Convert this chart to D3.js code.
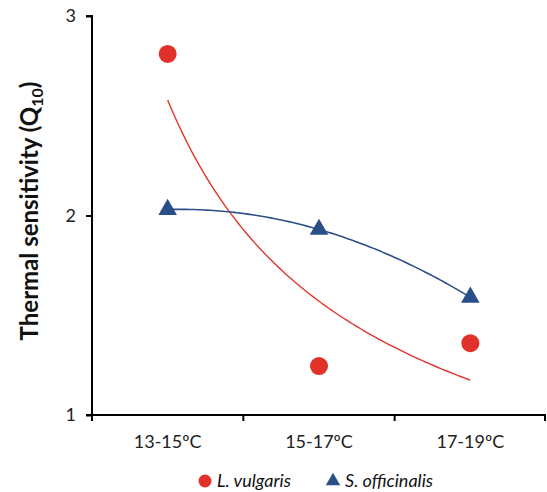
<!DOCTYPE html>
<html>
<head>
<meta charset="utf-8">
<script src="https://cdn.jsdelivr.net/npm/d3@7"></script>
<style>
  body { margin: 0; background: #fff; }
  text { font-family: Lato, "Open Sans", sans-serif; }
</style>
</head>
<body>
<svg width="547" height="492"></svg>
<script>
// values
var categories = ["13-15ºC", "15-17ºC", "17-19ºC"];
var vulgaris = [2.81, 1.245, 1.36];
var officinalis = [2.03, 1.93, 1.59];
var yTicks = [1, 2, 3];

var svg = d3.select("svg");
var mLeft = 92, mRight = 546, mTop = 16, mBottom = 415;

var x = d3.scaleBand().domain(categories).range([mLeft, mRight]);
var y = d3.scaleLinear().domain([1, 3]).range([mBottom, mTop]);
// trendline x (1..3) onto band centres
var xt = d3.scaleLinear().domain([1, 3])
  .range([x(categories[0]) + x.bandwidth() / 2, x(categories[2]) + x.bandwidth() / 2]);

// power trendline (like Excel) for L. vulgaris
function powerFit(ys) {
  var lx = ys.map(function(d, i) { return Math.log(i + 1); });
  var ly = ys.map(function(d) { return Math.log(d); });
  var mx = d3.mean(lx), my = d3.mean(ly);
  var sxy = d3.sum(lx, function(d, i) { return (d - mx) * (ly[i] - my); });
  var sxx = d3.sum(lx, function(d) { return (d - mx) * (d - mx); });
  var b = sxy / sxx, a = Math.exp(my - b * mx);
  return function(t) { return a * Math.pow(t, b); };
}
// 2nd order polynomial through the three S. officinalis points
function polyFit(ys) {
  var a = (ys[2] - 2 * ys[1] + ys[0]) / 2;
  var b = (ys[1] - ys[0]) - 3 * a;
  var c = ys[0] - a - b;
  return function(t) { return a * t * t + b * t + c; };
}

var steps = d3.range(1, 3.0001, 0.02);
var line = d3.line()
  .x(function(d) { return xt(d[0]); })
  .y(function(d) { return y(d[1]); });

var fv = powerFit(vulgaris), fo = polyFit(officinalis);

svg.append("path")
  .datum(steps.map(function(t) { return [t, fv(t)]; }))
  .attr("d", line).attr("fill", "none")
  .attr("stroke", "#e3342b").attr("stroke-width", 1.4);

svg.append("path")
  .datum(steps.map(function(t) { return [t, fo(t)]; }))
  .attr("d", line).attr("fill", "none")
  .attr("stroke", "#2b4f88").attr("stroke-width", 1.6);

// axes
var yAxis = d3.axisLeft(y).tickValues(yTicks).tickSize(6).tickPadding(10).tickFormat(d3.format("d"));
var gy = svg.append("g").attr("transform", "translate(" + mLeft + ",0)").call(yAxis);
gy.select(".domain").attr("stroke", "#000").attr("stroke-width", 2).attr("d", "M-6," + mTop + "H0V" + mBottom + "H-6");
gy.selectAll(".tick line").attr("stroke-width", 2);
gy.selectAll(".tick text").attr("font-size", 18).attr("fill", "#222")
  .style("font-family", "Lato, 'Open Sans', sans-serif");

var gx = svg.append("g").attr("transform", "translate(0," + mBottom + ")");
gx.append("line").attr("x1", mLeft).attr("x2", mRight).attr("stroke", "#000").attr("stroke-width", 2);
var bounds = categories.map(function(c) { return x(c); }).concat([mRight - 1]);
gx.selectAll(".xt").data(bounds).enter().append("line")
  .attr("x1", function(d) { return d; }).attr("x2", function(d) { return d; })
  .attr("y1", 0).attr("y2", 6).attr("stroke", "#000").attr("stroke-width", 2);
gx.selectAll(".xl").data(categories).enter().append("text")
  .attr("x", function(d) { return x(d) + x.bandwidth() / 2; })
  .attr("y", 33).attr("text-anchor", "middle")
  .attr("font-size", 18).attr("fill", "#222")
  .text(function(d) { return d; });

// y title
var title = svg.append("text")
  .attr("transform", "translate(38,211) rotate(-90)")
  .attr("text-anchor", "middle").attr("font-size", 24).attr("font-weight", "bold").attr("fill", "#111");
title.append("tspan").text("Thermal sensitivity (Q");
title.append("tspan").attr("font-size", 16).attr("dy", 5).text("10");
title.append("tspan").attr("dy", -5).text(")");

// points
svg.selectAll(".lv").data(vulgaris).enter().append("circle")
  .attr("cx", function(d, i) { return x(categories[i]) + x.bandwidth() / 2; })
  .attr("cy", function(d) { return y(d); })
  .attr("r", 9).attr("fill", "#e0312a");

var tri = d3.symbol().type(d3.symbolTriangle).size(150);
svg.selectAll(".so").data(officinalis).enter().append("path")
  .attr("d", tri)
  .attr("transform", function(d, i) {
    return "translate(" + (x(categories[i]) + x.bandwidth() / 2) + "," + y(d) + ")";
  })
  .attr("fill", "#2a4f88");

// legend
var lg = svg.append("g").attr("transform", "translate(0,481)");
lg.append("circle").attr("cx", 205).attr("cy", 0).attr("r", 6.5).attr("fill", "#e0312a");
lg.append("text").attr("x", 217).attr("y", 6).attr("font-size", 18).attr("font-style", "italic")
  .attr("fill", "#111").text("L. vulgaris");
lg.append("path").attr("d", d3.symbol().type(d3.symbolTriangle).size(90))
  .attr("transform", "translate(333,0)").attr("fill", "#2a4f88");
lg.append("text").attr("x", 345).attr("y", 6).attr("font-size", 18).attr("font-style", "italic")
  .attr("fill", "#111").text("S. officinalis");
</script>
</body>
</html>
